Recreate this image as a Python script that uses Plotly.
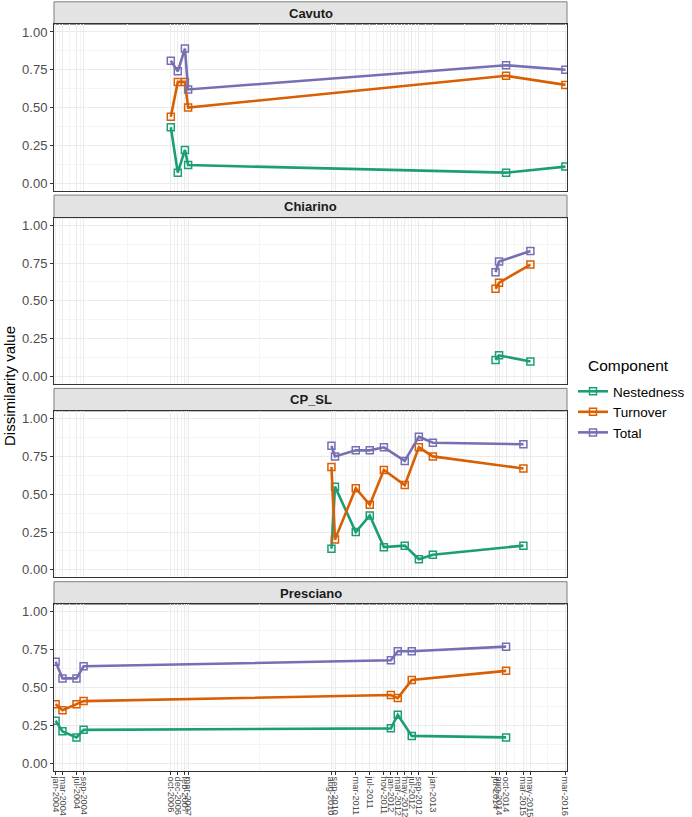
import pandas as pd
import plotly.graph_objects as go

# data
sites = ["Cavuto", "Chiarino", "CP_SL", "Presciano"]
components = ["Nestedness", "Turnover", "Total"]
colors = ["#1B9E77", "#D95F02", "#7570B3"]

cavuto_dates = ["2006-10-01", "2006-12-01", "2007-02-01", "2007-03-01", "2014-10-01", "2016-03-01"]
cavuto_nestedness = [0.37, 0.07, 0.22, 0.12, 0.07, 0.11]
cavuto_turnover = [0.44, 0.67, 0.67, 0.50, 0.71, 0.65]
cavuto_total = [0.81, 0.74, 0.89, 0.62, 0.78, 0.75]

chiarino_dates = ["2014-07-01", "2014-08-01", "2015-05-01"]
chiarino_nestedness = [0.11, 0.14, 0.10]
chiarino_turnover = [0.58, 0.62, 0.74]
chiarino_total = [0.69, 0.76, 0.83]

cpsl_dates = ["2010-08-01", "2010-09-01", "2011-03-01", "2011-07-01", "2011-11-01",
              "2012-05-01", "2012-09-01", "2013-01-01", "2015-03-01"]
cpsl_nestedness = [0.14, 0.55, 0.25, 0.36, 0.15, 0.16, 0.07, 0.10, 0.16]
cpsl_turnover = [0.68, 0.20, 0.54, 0.43, 0.66, 0.56, 0.81, 0.75, 0.67]
cpsl_total = [0.82, 0.75, 0.79, 0.79, 0.81, 0.72, 0.88, 0.84, 0.83]

presciano_dates = ["2004-01-01", "2004-03-01", "2004-07-01", "2004-09-01",
                   "2012-01-01", "2012-03-01", "2012-07-01", "2014-10-01"]
presciano_nestedness = [0.28, 0.21, 0.17, 0.22, 0.23, 0.32, 0.18, 0.17]
presciano_turnover = [0.39, 0.35, 0.39, 0.41, 0.45, 0.43, 0.55, 0.61]
presciano_total = [0.67, 0.56, 0.56, 0.64, 0.68, 0.74, 0.74, 0.77]

tick_dates = ["2004-01-01", "2004-03-01", "2004-07-01", "2004-09-01",
              "2006-10-01", "2006-12-01", "2007-02-01", "2007-03-01",
              "2010-08-01", "2010-09-01", "2011-03-01", "2011-07-01", "2011-11-01",
              "2012-01-01", "2012-03-01", "2012-05-01", "2012-07-01", "2012-09-01",
              "2013-01-01", "2014-07-01", "2014-08-01", "2014-10-01",
              "2015-03-01", "2015-05-01", "2016-03-01"]

site_data = {
    "Cavuto": (cavuto_dates, [cavuto_nestedness, cavuto_turnover, cavuto_total]),
    "Chiarino": (chiarino_dates, [chiarino_nestedness, chiarino_turnover, chiarino_total]),
    "CP_SL": (cpsl_dates, [cpsl_nestedness, cpsl_turnover, cpsl_total]),
    "Presciano": (presciano_dates, [presciano_nestedness, presciano_turnover, presciano_total]),
}

ticks = pd.to_datetime(tick_dates)
tick_text = [d.strftime("%b-%Y").lower() for d in ticks]
minor_vals = [(ticks[i] + (ticks[i + 1] - ticks[i]) / 2).strftime("%Y-%m-%d") for i in range(len(ticks) - 1)]

W, H = 692, 817
m_t, m_b, m_l, m_r = 2, 46, 54, 125
ph = H - m_t - m_b
pw = W - m_l - m_r
step, strip_h, panel_h = 193.3, 22.6, 166.4


def to_paper(px):
    return 1 - (px - m_t) / ph


fig = go.Figure()
shapes, annotations = [], []

for i, site in enumerate(sites):
    dates, series = site_data[site]
    n = i + 1
    xa = "x" if n == 1 else f"x{n}"
    ya = "y" if n == 1 else f"y{n}"
    for comp, col, vals in zip(components, colors, series):
        fig.add_trace(go.Scatter(
            x=dates, y=vals, mode="lines+markers", name=comp,
            legendgroup=comp, showlegend=(i == 0),
            line=dict(color=col, width=2.6),
            marker=dict(symbol="square-open", size=7, color=col, line=dict(width=1.5, color=col)),
            xaxis=xa, yaxis=ya,
        ))

    strip_top = 1.8 + step * i
    plot_top = strip_top + strip_h
    plot_bot = plot_top + panel_h
    dom = [to_paper(plot_bot), to_paper(plot_top)]

    xkey = "xaxis" if n == 1 else f"xaxis{n}"
    ykey = "yaxis" if n == 1 else f"yaxis{n}"
    fig.update_layout(**{
        xkey: dict(
            type="date", domain=[0, 1], anchor=ya, automargin=False,
            range=["2003-12-18", "2016-03-15"],
            tickmode="array", tickvals=tick_dates, ticktext=tick_text,
            showticklabels=(n == 4), ticks="outside" if n == 4 else "",
            ticklen=3, tickcolor="#333333", tickangle=90,
            tickfont=dict(size=9.2, color="#4D4D4D"),
            showgrid=True, gridcolor="#EBEBEB", gridwidth=1,
            minor=dict(tickmode="array", tickvals=minor_vals, showgrid=True,
                       gridcolor="#F4F4F4", gridwidth=0.6, ticks=""),
            showline=True, mirror=True, linecolor="#333333", linewidth=1,
            zeroline=False,
            matches=None if n == 1 else "x",
        ),
        ykey: dict(
            domain=dom, anchor=xa, range=[-0.05, 1.05], automargin=False,
            tickmode="array", tickvals=[0, 0.25, 0.5, 0.75, 1.0], tickformat=".2f",
            ticks="outside", ticklen=3, tickcolor="#333333",
            tickfont=dict(size=13, color="#4D4D4D"),
            showgrid=True, gridcolor="#EBEBEB", gridwidth=1,
            minor=dict(tick0=0.125, dtick=0.25, showgrid=True, gridcolor="#F4F4F4",
                       gridwidth=0.6, ticks=""),
            showline=True, mirror=True, linecolor="#333333", linewidth=1,
            zeroline=False,
        ),
    })

    # facet strip
    shapes.append(dict(type="rect", xref="paper", yref="paper", x0=0, x1=1,
                       y0=to_paper(plot_top), y1=to_paper(strip_top),
                       fillcolor="#E3E3E3", line=dict(color="#7F7F7F", width=1), layer="below"))
    annotations.append(dict(text=f"<b>{site}</b>", xref="paper", yref="paper", x=0.5,
                            y=to_paper(strip_top + strip_h / 2), showarrow=False,
                            xanchor="center", yanchor="middle",
                            font=dict(size=13, color="#1A1A1A")))

annotations.append(dict(text="Dissimilarity value", xref="paper", yref="paper",
                        x=(10 - m_l) / pw, y=to_paper(386), textangle=-90,
                        showarrow=False, xanchor="center", yanchor="middle",
                        font=dict(size=15, color="#000000")))
annotations.append(dict(text="Component", xref="paper", yref="paper",
                        x=(586 - m_l) / pw, y=to_paper(365), showarrow=False,
                        xanchor="left", yanchor="middle",
                        font=dict(size=15.5, color="#000000")))

fig.update_layout(
    width=W, height=H,
    margin=dict(t=m_t, b=m_b, l=m_l, r=m_r, autoexpand=False),
    paper_bgcolor="white", plot_bgcolor="white",
    font=dict(family="Liberation Sans, Arial, sans-serif"),
    shapes=shapes, annotations=annotations,
    legend=dict(x=(573 - m_l) / pw, xanchor="left",
                y=to_paper(376), yanchor="top",
                font=dict(size=13.5, color="#000000"), itemwidth=30,
                tracegroupgap=0, bgcolor="rgba(0,0,0,0)"),
)

# drop the default page margin so the figure sits at the window's corner
fig.write_html("out.html", config={"displayModeBar": False},
               post_script="document.body.style.margin='0px';")
